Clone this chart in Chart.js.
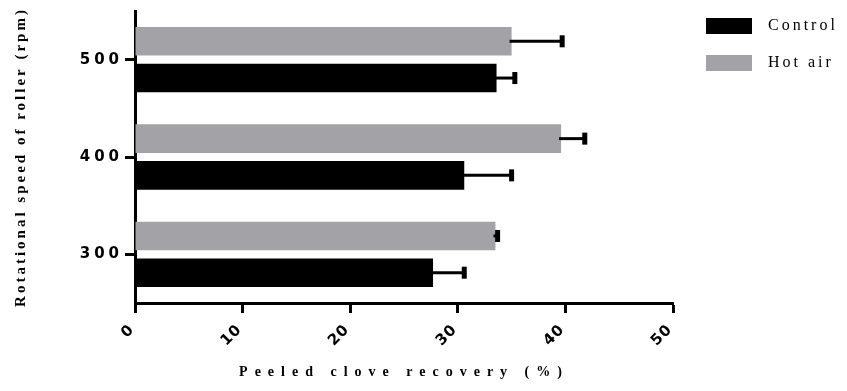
<!DOCTYPE html>
<html>
<head>
<meta charset="utf-8">
<script src="https://cdn.jsdelivr.net/npm/chart.js@4/dist/chart.umd.min.js"></script>
<style>
  html, body { margin: 0; padding: 0; background: #fff; }
  #wrap { width: 847px; height: 391px; }
</style>
</head>
<body>
<div id="wrap"><canvas id="c" width="847" height="391"></canvas></div>
<script>
// ---- data ----
const categories = ['500', '400', '300'];
const hotAir = [35.0, 39.6, 33.5];
const hotAirErr = [4.7, 2.2, 0.2];
const control = [33.6, 30.6, 27.7];
const controlErr = [1.7, 4.4, 2.9];
const xTicks = [0, 10, 20, 30, 40, 50];
const xTitle = 'Peeled clove recovery (%)';
const yTitle = 'Rotational speed of roller (rpm)';
const legendOrder = ['Control', 'Hot air'];

const GRAY = '#a3a2a7';
const SERIF = '"Liberation Serif", "Times New Roman", serif';
const SANS = '"DejaVu Sans", Arial, sans-serif';

const spacing = {
  x: { labels: '1px', title: '7px' },
  y: { labels: '4px', title: '3px' }
};

const spacingPlugin = {
  id: 'spacing',
  beforeDraw(chart) {
    Object.values(chart.scales).forEach(scale => {
      if (scale._spWrapped) return;
      scale._spWrapped = true;
      const sp = spacing[scale.id] || { labels: '0px', title: '0px' };
      const oT = scale.drawTitle.bind(scale);
      const oL = scale.drawLabels.bind(scale);
      scale.drawTitle = function () {
        const ctx = chart.ctx; const prev = ctx.letterSpacing;
        ctx.letterSpacing = sp.title; oT(); ctx.letterSpacing = prev;
      };
      scale.drawLabels = function (a) {
        const ctx = chart.ctx; const prev = ctx.letterSpacing;
        ctx.letterSpacing = sp.labels; oL(a); ctx.letterSpacing = prev;
      };
    });
  }
};

const errorBarPlugin = {
  id: 'errorBars',
  afterDatasetsDraw(chart) {
    const ctx = chart.ctx;
    const xs = chart.scales.x;
    chart.data.datasets.forEach((ds, di) => {
      const meta = chart.getDatasetMeta(di);
      meta.data.forEach((bar, i) => {
        const v = ds.data[i];
        const e = ds.errors[i];
        const x0 = xs.getPixelForValue(v);
        const x1 = xs.getPixelForValue(v + e);
        const y = bar.y;
        ctx.save();
        ctx.strokeStyle = '#000';
        ctx.fillStyle = '#000';
        ctx.lineWidth = 3;
        ctx.beginPath();
        ctx.moveTo(x0 - 2, y);
        ctx.lineTo(x1, y);
        ctx.stroke();
        ctx.fillRect(x1 - 2.5, y - 6, 5, 12);
        ctx.restore();
      });
    });
  }
};

const legendPlugin = {
  id: 'customLegend',
  afterDraw(chart) {
    const ctx = chart.ctx;
    ctx.save();
    legendOrder.forEach((name, k) => {
      const ds = chart.data.datasets.find(d => d.label === name);
      const y = 18 + k * 37;
      ctx.fillStyle = ds.backgroundColor;
      ctx.fillRect(706, y, 46, 16);
      ctx.fillStyle = '#000';
      ctx.font = '16px ' + SERIF;
      ctx.letterSpacing = '3px';
      ctx.textBaseline = 'middle';
      ctx.textAlign = 'left';
      ctx.fillText(name, 768, y + 8);
    });
    ctx.restore();
  }
};

new Chart(document.getElementById('c'), {
  type: 'bar',
  data: {
    labels: categories,
    datasets: [
      { label: 'Hot air', data: hotAir, errors: hotAirErr, backgroundColor: GRAY,
        borderWidth: 0, categoryPercentage: 0.755, barPercentage: 0.78 },
      { label: 'Control', data: control, errors: controlErr, backgroundColor: '#000',
        borderWidth: 0, categoryPercentage: 0.755, barPercentage: 0.78 }
    ]
  },
  options: {
    indexAxis: 'y',
    responsive: false,
    animation: false,
    devicePixelRatio: 1,
    layout: { padding: { left: 0, right: 174, top: 9, bottom: 0 } },
    plugins: {
      legend: { display: false },
      tooltip: { enabled: false }
    },
    scales: {
      x: {
        min: 0, max: 50,
        afterBuildTicks(scale) { scale.ticks = xTicks.map(v => ({ value: v })); },
        afterFit(scale) { scale.height = 88; },
        border: { display: true, color: '#000', width: 3 },
        grid: { display: true, drawOnChartArea: false, drawTicks: true, tickLength: 10,
                tickWidth: 3, tickColor: '#000' },
        ticks: { color: '#000', minRotation: 45, maxRotation: 45, padding: 8, labelOffset: -3,
                 font: { family: SANS, size: 15, weight: 'bold' } },
        title: { display: true, text: xTitle, color: '#000',
                 font: { family: SERIF, size: 14, weight: 'bold' },
                 padding: { top: 4, bottom: 10 } }
      },
      y: {
        afterFit(scale) { scale.width = 135; },
        border: { display: true, color: '#000', width: 3 },
        grid: { display: true, offset: false, drawOnChartArea: false, drawTicks: true,
                tickLength: 10, tickWidth: 3, tickColor: '#000' },
        ticks: { color: '#000', padding: 2,
                 font: { family: SANS, size: 15, weight: 'bold' } },
        title: { display: true, text: yTitle, color: '#000',
                 font: { family: SERIF, size: 15, weight: 'bold' },
                 padding: { top: 12, bottom: 0 } }
      }
    }
  },
  plugins: [spacingPlugin, errorBarPlugin, legendPlugin]
});
</script>
</body>
</html>
